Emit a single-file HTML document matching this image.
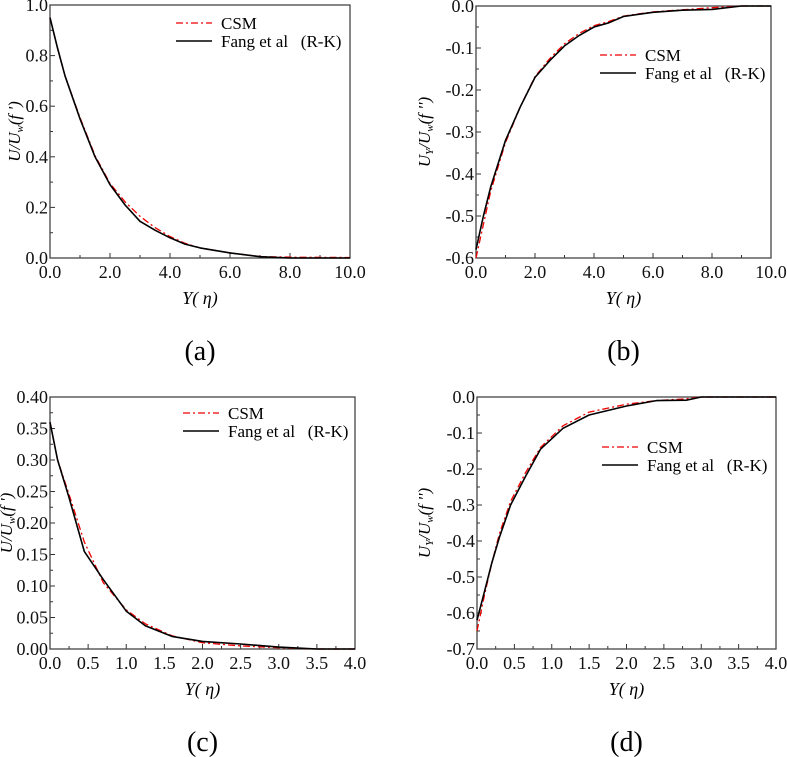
<!DOCTYPE html>
<html><head><meta charset="utf-8"><style>
body{margin:0;background:#fff}
svg{display:block}
svg text{font-family:"Liberation Serif","DejaVu Serif","Noto Serif CJK SC",serif;white-space:pre}
</style></head><body>
<svg id="fig" width="787" height="757" viewBox="0 0 787 757"></svg>
<script>
// Panel (a)
const aX=[0,0.25,0.5,1,1.5,2,2.5,3,3.5,4,4.5,5,6,7,8,10];
const aRK=[0.95,0.83,0.72,0.55,0.40,0.29,0.21,0.145,0.11,0.08,0.055,0.04,0.02,0.005,0,0];
const aCSM=[0.95,0.83,0.72,0.555,0.405,0.295,0.222,0.165,0.12,0.085,0.058,0.04,0.02,0.006,0.003,0.002];
const aTicks=["0.0","2.0","4.0","6.0","8.0","10.0"];
const aYTicks=["0.0","0.2","0.4","0.6","0.8","1.0"];
// Panel (b)
const bX=[0,0.25,0.5,1,1.5,2,2.5,3,3.5,4,4.5,5,6,7,8,9,10];
const bRK=[-0.58,-0.50,-0.43,-0.32,-0.24,-0.17,-0.13,-0.095,-0.07,-0.05,-0.04,-0.025,-0.015,-0.01,-0.008,0,0];
const bCSM=[-0.60,-0.52,-0.44,-0.325,-0.24,-0.168,-0.125,-0.09,-0.065,-0.047,-0.037,-0.024,-0.014,-0.009,-0.004,0,0];
const bTicks=["0.0","2.0","4.0","6.0","8.0","10.0"];
const bYTicks=["-0.6","-0.5","-0.4","-0.3","-0.2","-0.1","0.0"];
// Panel (c)
const cX=[0,0.1,0.25,0.45,0.7,1,1.25,1.6,2,2.5,3,3.5,4];
const cRK=[0.36,0.30,0.24,0.155,0.11,0.06,0.037,0.02,0.012,0.008,0.003,0,0];
const cCSM=[0.36,0.30,0.245,0.17,0.105,0.062,0.04,0.021,0.01,0.005,0.002,0,0];
const cTicks=["0.0","0.5","1.0","1.5","2.0","2.5","3.0","3.5","4.0"];
const cYTicks=["0.00","0.05","0.10","0.15","0.20","0.25","0.30","0.35","0.40"];
// Panel (d)
const dX=[0,0.1,0.2,0.3,0.45,0.65,0.85,1.15,1.5,2,2.4,2.8,3,4];
const dRK=[-0.62,-0.54,-0.46,-0.39,-0.30,-0.22,-0.145,-0.087,-0.05,-0.025,-0.01,-0.009,0,0];
const dCSM=[-0.65,-0.55,-0.46,-0.38,-0.29,-0.21,-0.14,-0.08,-0.042,-0.02,-0.01,-0.005,0,0];
const dTicks=["0.0","0.5","1.0","1.5","2.0","2.5","3.0","3.5","4.0"];
const dYTicks=["-0.7","-0.6","-0.5","-0.4","-0.3","-0.2","-0.1","0.0"];

const NS="http://www.w3.org/2000/svg";
const svg=document.getElementById('fig');
function mk(t,a,p){const e=document.createElementNS(NS,t);for(const k in a)e.setAttribute(k,a[k]);(p||svg).appendChild(e);return e;}

function panel(o){
  const g=mk('g',{});
  
  
  const sx=v=>o.L+(v-o.x0)/(o.x1-o.x0)*(o.R-o.L);
  const sy=v=>o.B-(v-o.y0)/(o.y1-o.y0)*(o.B-o.T);
  const nx=o.xt.length;
  for(let i=0;i<nx;i++){
    const v=o.x0+i*(o.x1-o.x0)/(nx-1);const x=sx(v);
    mk('line',{x1:x,x2:x,y1:o.B,y2:o.B-5,stroke:'#333','stroke-width':1},g);
    if(i<nx-1){const xm=sx(v+(o.x1-o.x0)/(nx-1)/2);mk('line',{x1:xm,x2:xm,y1:o.B,y2:o.B-3,stroke:'#333','stroke-width':1},g);}
    const t=mk('text',{x:x,y:o.B+20,'text-anchor':'middle','font-size':18,fill:'#111'},g);t.textContent=o.xt[i];
    
    
  }
  const ny=o.yt.length;
  for(let i=0;i<ny;i++){
    const v=o.y0+i*(o.y1-o.y0)/(ny-1);const y=sy(v);
    mk('line',{x1:o.L,x2:o.L+5,y1:y,y2:y,stroke:'#333','stroke-width':1},g);
    if(i<ny-1){const ym=sy(v+(o.y1-o.y0)/(ny-1)/2);mk('line',{x1:o.L,x2:o.L+3,y1:ym,y2:ym,stroke:'#333','stroke-width':1},g);}
    const t=mk('text',{x:o.L-2,y:y+6,'text-anchor':'end','font-size':18,fill:'#111'},g);t.textContent=o.yt[i];
    
    
  }
  const box=mk('rect',{x:o.L,y:o.T,width:o.R-o.L,height:o.B-o.T,fill:'none',stroke:'#444','stroke-width':1.3},g);
  
  
  const path=(xs,ys)=>xs.map((v,i)=>(i?'L':'M')+sx(v).toFixed(1)+','+sy(ys[i]).toFixed(1)).join('');
  const c=mk('path',{d:path(o.x,o.csm),fill:'none',stroke:'#e00','stroke-width':1.3,'stroke-dasharray':'7,3,2,3'},g);
  
  
  const r=mk('path',{d:path(o.x,o.rk),fill:'none',stroke:'#000','stroke-width':1.6,'stroke-linejoin':'round'},g);
  
  
  const lg=mk('g',{},g);
  
  
  mk('line',{x1:o.lx,x2:o.lx+36,y1:o.ly,y2:o.ly,stroke:'#e00','stroke-width':1.3,'stroke-dasharray':'7,3,2,3'},lg);
  let t=mk('text',{x:o.lx+45,y:o.ly+6,'font-size':17},lg);t.textContent='CSM';
  mk('line',{x1:o.lx,x2:o.lx+36,y1:o.ly+18,y2:o.ly+18,stroke:'#000','stroke-width':1.6},lg);
  t=mk('text',{x:o.lx+45,y:o.ly+24,'font-size':17},lg);t.textContent='Fang et al   (R-K)';
  t=mk('text',{x:(o.L+o.R)/2,y:o.B+46,'text-anchor':'middle','font-size':18,'font-style':'italic'},g);t.textContent='Y( η)';
  
  
  t=mk('text',{x:0,y:0,'text-anchor':'middle','font-size':17,'font-style':'italic',transform:`translate(${o.yx},${(o.T+o.B)/2}) rotate(-90)`},g);
  t.innerHTML=o.ytitle;
  
  
  t=mk('text',{x:(o.L+o.R)/2,y:o.B+102,'text-anchor':'middle','font-size':28},g);t.textContent='('+o.id+')';
  
  
}
const yt1="U/U<tspan font-size='11' dy='3'>w</tspan><tspan dy='-3'>(f ')</tspan>";
const yt2="U<tspan font-size='11' dy='3'>Y</tspan><tspan dy='-3'>/U</tspan><tspan font-size='11' dy='3'>w</tspan><tspan dy='-3'>(f '')</tspan>";
panel({id:'a',L:50,R:350,T:5,B:258,x0:0,x1:10,y0:0,y1:1,x:aX,rk:aRK,csm:aCSM,xt:aTicks,yt:aYTicks,lx:176,ly:23,yx:20,ytitle:yt1});
panel({id:'b',L:476,R:771,T:6,B:258,x0:0,x1:10,y0:-0.6,y1:0,x:bX,rk:bRK,csm:bCSM,xt:bTicks,yt:bYTicks,lx:600,ly:55,yx:430,ytitle:yt2});
panel({id:'c',L:50,R:355,T:397,B:649,x0:0,x1:4,y0:0,y1:0.4,x:cX,rk:cRK,csm:cCSM,xt:cTicks,yt:cYTicks,lx:183,ly:413,yx:12,ytitle:yt1});
panel({id:'d',L:477,R:776,T:397,B:649,x0:0,x1:4,y0:-0.7,y1:0,x:dX,rk:dRK,csm:dCSM,xt:dTicks,yt:dYTicks,lx:602,ly:447,yx:430,ytitle:yt2});
</script>
</body></html>
